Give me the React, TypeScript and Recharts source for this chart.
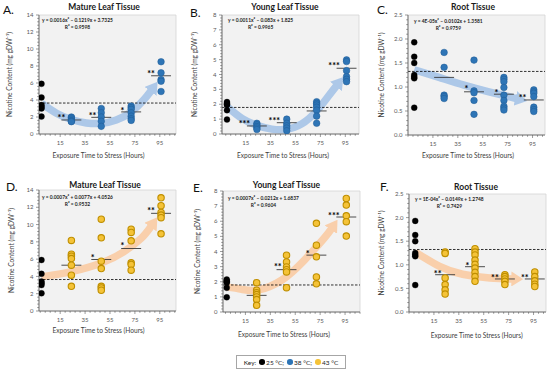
import React from 'react';
import {
  ComposedChart,
  XAxis,
  YAxis,
  Scatter,
  Line,
  ReferenceLine,
  ReferenceArea,
  CartesianGrid,
} from 'recharts';

const FONT = 'Lato, "Liberation Sans", sans-serif';

// ---------- categories / tick labels ----------
const HOURS = [24, 48, 72, 96];
const X_MAJOR = [15, 35, 55, 75, 95];
const Y_MAJOR_MATURE = [0, 2, 4, 6, 8, 10, 12, 14];
const Y_MAJOR_YOUNG = [0, 1, 2, 3, 4, 5, 6, 7, 8];
const Y_MAJOR_ROOT = [0, 0.5, 1, 1.5, 2, 2.5];

// ---------- control (25 °C) ----------
const ctrlMature = [5.9, 4.3, 3.4, 3.2, 3.0, 2.05];
const ctrlYoung = [2.15, 2.05, 2.0, 1.95, 1.6, 0.97];
const ctrlRoot = [1.93, 1.63, 1.5, 1.25, 1.21, 1.18, 0.57];

// ---------- 38 °C ----------
const mature38 = [
  [2.0, 1.9, 1.75, 1.6, 1.5, 1.45],
  [3.0, 2.5, 2.0, 1.5, 0.9],
  [3.3, 3.1, 2.9, 2.5, 2.1, 1.8, 1.6],
  [8.5, 7.2, 6.4, 6.2, 5.0],
];
const mature38Means = [1.65, 1.96, 2.6, 6.85];
const young38 = [
  [0.72, 0.62, 0.5, 0.4, 0.3],
  [1.0, 0.72, 0.55, 0.4, 0.22],
  [2.17, 2.06, 1.95, 1.8, 1.6, 1.2, 0.72],
  [4.98, 4.87, 4.26, 3.86, 3.68, 3.52],
];
const young38Means = [0.54, 0.76, 1.55, 4.42];
const root38 = [
  [1.72, 1.41, 0.83, 0.8, 0.76],
  [1.56, 0.92, 0.88, 0.72, 0.43],
  [1.2, 1.16, 1.11, 0.99, 0.83, 0.72, 0.6, 0.56, 0.52],
  [0.94, 0.9, 0.87, 0.8, 0.58, 0.53, 0.49],
];
const root38Means = [1.2, 0.9, 0.85, 0.73];

// ---------- 43 °C ----------
const mature43 = [
  [8.16, 6.57, 6.34, 6.07, 5.3, 4.14, 2.86],
  [10.63, 8.47, 5.76, 4.91, 2.86, 2.67, 2.4],
  [9.47, 9.09, 8.12, 5.57, 5.38, 4.72],
  [13.1, 12.18, 11.4, 11.1, 10.8, 8.93],
];
const mature43Means = [5.3, 5.96, 7.23, 11.3];
const young43 = [
  [1.94, 1.44, 1.28, 1.15, 1.0, 0.82, 0.44],
  [3.76, 3.31, 2.98, 2.8, 2.65, 1.61],
  [5.86, 4.42, 3.65, 2.32, 1.86],
  [7.51, 7.07, 6.36, 5.97, 5.02],
];
const young43Means = [1.1, 2.8, 3.76, 6.28];
const root43 = [
  [1.27, 1.24, 0.72, 0.58, 0.47, 0.38],
  [1.34, 1.27, 1.21, 1.1, 1.01, 0.93, 0.84, 0.75, 0.65],
  [0.79, 0.75, 0.7, 0.65, 0.58],
  [0.85, 0.75, 0.66, 0.59, 0.54],
];
const root43Means = [0.79, 0.96, 0.7, 0.7];

// ---------- significance marks ----------
const starsA = [
  { x: 16, y: 2.15, t: '**' },
  { x: 41, y: 2.4, t: '**' },
  { x: 65, y: 3.0, t: '*' },
  { x: 88, y: 7.3, t: '**' },
];
const starsB = [
  { x: 14, y: 0.83, t: '***' },
  { x: 38, y: 1.0, t: '***' },
  { x: 86, y: 4.7, t: '***' },
];
const starsC = [
  { x: 42, y: 0.99, t: '*' },
  { x: 66, y: 0.92, t: '*' },
  { x: 87, y: 0.82, t: '**' },
];
const starsD = [
  { x: 41, y: 6.34, t: '*' },
  { x: 65, y: 7.73, t: '*' },
  { x: 88, y: 11.8, t: '**' },
];
const starsE = [
  { x: 41, y: 3.1, t: '**' },
  { x: 65, y: 3.98, t: '*' },
  { x: 86, y: 6.45, t: '***' },
];
const starsF = [
  { x: 18, y: 0.84, t: '**' },
  { x: 42, y: 1.02, t: '*' },
  { x: 64, y: 0.77, t: '**' },
  { x: 88, y: 0.77, t: '**' },
];

// ---------- trend arrows ----------
const arrowA = [
  { x: 0, y: 3.6 }, { x: 12, y: 2.45 }, { x: 24, y: 1.7 }, { x: 36, y: 1.3 },
  { x: 48, y: 1.25 }, { x: 60, y: 1.65 }, { x: 72, y: 2.6 }, { x: 82, y: 4.0 }, { x: 88, y: 5.1 },
];
const arrowB = [
  { x: 0, y: 1.84 }, { x: 12, y: 1.05 }, { x: 24, y: 0.58 }, { x: 36, y: 0.33 },
  { x: 48, y: 0.32 }, { x: 60, y: 0.68 }, { x: 72, y: 1.55 }, { x: 82, y: 2.6 }, { x: 88, y: 3.25 },
];
const arrowC = [
  { x: 0, y: 1.36 }, { x: 20, y: 1.2 }, { x: 40, y: 1.04 }, { x: 60, y: 0.9 }, { x: 82, y: 0.76 },
];
const arrowD = [
  { x: 0, y: 3.95 }, { x: 24, y: 4.55 }, { x: 48, y: 5.55 }, { x: 66, y: 6.85 },
  { x: 80, y: 8.4 }, { x: 88, y: 9.8 },
];
const arrowE = [
  { x: 0, y: 1.66 }, { x: 12, y: 1.5 }, { x: 25, y: 1.45 }, { x: 44, y: 2.1 },
  { x: 62, y: 3.4 }, { x: 78, y: 4.86 }, { x: 84, y: 5.5 },
];
const arrowF = [
  { x: 0, y: 1.27 }, { x: 20, y: 0.96 }, { x: 38, y: 0.8 }, { x: 60, y: 0.72 }, { x: 78, y: 0.7 },
];

const BLUE = '#2e75b6';
const BLUE_EDGE = '#1f5a94';
const GOLD = '#f5c338';
const GOLD_EDGE = '#bf8f00';
const ARROW_BLUE = '#adc8e8';
const ARROW_GOLD = '#f9cfab';

type Cfg = {
  letter: string;
  title: string;
  left: number;
  top: number;
  width: number;
  plot: { l: number; r: number; t: number; b: number };
  xDomain: [number, number];
  yMax: number;
  yMajor: number[];
  yMinorStep: number;
  yFmt: (v: number) => string;
  ctrl: number[];
  groups: number[][];
  means: number[];
  stars: { x: number; y: number; t: string }[];
  arrow: { x: number; y: number }[];
  gold: boolean;
  eq1: string;
  eq2: string;
  titlePos: [number, number];
  letterPos: [number, number];
  eqPos: [number, number];
  yLabelX: number;
  xLabelCenter: number;
  xLabelY: number;
};

const fmtInt = (v: number) => String(v);
const fmt1 = (v: number) => v.toFixed(1);

const panels: Cfg[] = [
  {
    letter: 'A.', title: 'Mature Leaf Tissue', left: 0, top: 0, width: 183,
    plot: { l: 39, r: 176, t: 15, b: 134 }, xDomain: [-2, 108], yMax: 14,
    yMajor: Y_MAJOR_MATURE, yMinorStep: 0.4, yFmt: fmtInt,
    ctrl: ctrlMature, groups: mature38, means: mature38Means, stars: starsA, arrow: arrowA, gold: false,
    eq1: 'y = 0.0016x² – 0.1219x + 3.7325', eq2: 'R² = 0.9598',
    titlePos: [104, 7], letterPos: [3, 10], eqPos: [42, 16.5], yLabelX: 10, xLabelCenter: 98.5, xLabelY: 155.7,
  },
  {
    letter: 'B.', title: 'Young Leaf Tissue', left: 183, top: 0, width: 182,
    plot: { l: 39, r: 176, t: 15, b: 134 }, xDomain: [-4, 106], yMax: 8,
    yMajor: Y_MAJOR_YOUNG, yMinorStep: 0.2, yFmt: fmtInt,
    ctrl: ctrlYoung, groups: young38, means: young38Means, stars: starsB, arrow: arrowB, gold: false,
    eq1: 'y = 0.0011x² – 0.083x + 1.825', eq2: 'R² = 0.9965',
    titlePos: [102, 7], letterPos: [7, 13], eqPos: [45, 16.5], yLabelX: 12, xLabelCenter: 100, xLabelY: 155.7,
  },
  {
    letter: 'C.', title: 'Root Tissue', left: 365, top: 0, width: 185,
    plot: { l: 43, r: 180, t: 15, b: 135 }, xDomain: [-5, 105], yMax: 2.5,
    yMajor: Y_MAJOR_ROOT, yMinorStep: 0.1, yFmt: fmt1,
    ctrl: ctrlRoot, groups: root38, means: root38Means, stars: starsC, arrow: arrowC, gold: false,
    eq1: 'y = 4E-05x² – 0.0102x + 1.3581', eq2: 'R² = 0.9759',
    titlePos: [108, 7], letterPos: [12, 10], eqPos: [49, 17.5], yLabelX: 17, xLabelCenter: 103, xLabelY: 155.7,
  },
  {
    letter: 'D.', title: 'Mature Leaf Tissue', left: 0, top: 175, width: 183,
    plot: { l: 39, r: 176, t: 15, b: 136 }, xDomain: [-2, 108], yMax: 14,
    yMajor: Y_MAJOR_MATURE, yMinorStep: 0.4, yFmt: fmtInt,
    ctrl: ctrlMature, groups: mature43, means: mature43Means, stars: starsD, arrow: arrowD, gold: true,
    eq1: 'y = 0.0007x² + 0.0077x + 4.0526', eq2: 'R² = 0.9532',
    titlePos: [105, 10], letterPos: [6, 12], eqPos: [42, 18.5], yLabelX: 12, xLabelCenter: 98.5, xLabelY: 155.7,
  },
  {
    letter: 'E.', title: 'Young Leaf Tissue', left: 183, top: 175, width: 182,
    plot: { l: 40, r: 177, t: 16, b: 137 }, xDomain: [-3, 107], yMax: 8,
    yMajor: Y_MAJOR_YOUNG, yMinorStep: 0.2, yFmt: fmtInt,
    ctrl: ctrlYoung, groups: young43, means: young43Means, stars: starsE, arrow: arrowE, gold: true,
    eq1: 'y = 0.0007x² – 0.0212x + 1.6837', eq2: 'R² = 0.9604',
    titlePos: [103.5, 10], letterPos: [10, 13], eqPos: [45, 19.5], yLabelX: 15, xLabelCenter: 101, xLabelY: 159.3,
  },
  {
    letter: 'F.', title: 'Root Tissue', left: 365, top: 175, width: 185,
    plot: { l: 44, r: 181, t: 19, b: 137 }, xDomain: [-5, 105], yMax: 2.5,
    yMajor: Y_MAJOR_ROOT, yMinorStep: 0.1, yFmt: fmt1,
    ctrl: ctrlRoot, groups: root43, means: root43Means, stars: starsF, arrow: arrowF, gold: true,
    eq1: 'y = 1E-04x² – 0.0149x + 1.2748', eq2: 'R² = 0.7429',
    titlePos: [111, 12], letterPos: [15, 12], eqPos: [50, 20.5], yLabelX: 17, xLabelCenter: 111.7, xLabelY: 161,
  },
];

const near = (a: number, b: number) => Math.abs(a - b) < 1e-6;

function Panel({ cfg }: { cfg: Cfg }) {
  const W = cfg.width;
  const H = 175;
  const { plot } = cfg;
  const XH = 20;
  const ctrlMean = cfg.ctrl.reduce((a, b) => a + b, 0) / cfg.ctrl.length;
  const ctrlPts = cfg.ctrl.map((v) => ({ x: 0, y: v }));
  const grpPts = cfg.groups.flatMap((g, i) => g.map((v) => ({ x: HOURS[i], y: v })));

  const xTicks: number[] = [];
  for (let v = X_MAJOR[0]; v >= cfg.xDomain[0]; v -= 4) xTicks.unshift(v);
  for (let v = X_MAJOR[0] + 4; v <= cfg.xDomain[1]; v += 4) xTicks.push(v);
  const yTicks: number[] = [];
  const nMinor = Math.round(cfg.yMax / cfg.yMinorStep);
  for (let i = 0; i <= nMinor; i++) yTicks.push(Math.round(i * cfg.yMinorStep * 1000) / 1000);

  const xTick = (p: any) => {
    const { x, y, payload } = p;
    const v = payload.value;
    const major = X_MAJOR.some((m) => near(m, v));
    return (
      <g>
        <line x1={x} x2={x} y1={y} y2={y + (major ? 3 : 1.8)} stroke="#595959" strokeWidth={0.6} />
        {major && (
          <text x={x} y={y + 9} dy="0.35em" textAnchor="middle" fontSize={6} fill="#595959" fontFamily={FONT}>
            {v}
          </text>
        )}
      </g>
    );
  };
  const yTick = (p: any) => {
    const { x, y, payload } = p;
    const v = payload.value;
    const major = cfg.yMajor.some((m) => near(m, v));
    return (
      <g>
        <line x1={x} x2={x - (major ? 3 : 1.8)} y1={y} y2={y} stroke="#595959" strokeWidth={0.6} />
        {major && (
          <text x={x - 5.5} y={y} dy="0.35em" textAnchor="end" fontSize={6} fill="#595959" fontFamily={FONT}>
            {cfg.yFmt(v)}
          </text>
        )}
      </g>
    );
  };

  const dotShape = (fill: string, stroke: string, r: number, sw: number) => (p: any) => (
    <circle cx={p.cx} cy={p.cy} r={r} fill={fill} stroke={stroke} strokeWidth={sw} />
  );
  const starShape = (p: any) => (
    <text x={p.cx} y={p.cy + 5} textAnchor="middle" fontSize={9} fontWeight={700} fill="#000" fontFamily={FONT}>
      {p.payload.t}
    </text>
  );

  const plotCenterX = (plot.l + plot.r) / 2;
  const xLabelOffset = cfg.xLabelY - 2.2 - plot.b - XH;

  return (
    <div style={{ position: 'absolute', left: cfg.left, top: cfg.top, width: W, height: H }}>
      <ComposedChart
        width={W}
        height={H}
        margin={{ top: plot.t, right: W - plot.r, bottom: H - plot.b - XH, left: 0 }}
      >
        <CartesianGrid horizontal={false} vertical={false} fill="#f2f2f2" />
        <XAxis
          type="number"
          dataKey="x"
          domain={cfg.xDomain}
          allowDataOverflow
          ticks={xTicks}
          interval={0}
          tickSize={0}
          tickMargin={0}
          tickLine={false}
          tick={xTick}
          height={XH}
          axisLine={{ stroke: '#595959', strokeWidth: 0.8 }}
          label={{
            value: 'Exposure Time to Stress (Hours)',
            position: 'bottom',
            offset: xLabelOffset,
            dx: cfg.xLabelCenter - plotCenterX,
            fontSize: 6.6,
            fill: '#404040',
            fontFamily: FONT,
          }}
        />
        <YAxis
          type="number"
          dataKey="y"
          domain={[0, cfg.yMax]}
          allowDataOverflow
          ticks={yTicks}
          interval={0}
          tickSize={0}
          tickMargin={0}
          tickLine={false}
          tick={yTick}
          width={plot.l}
          axisLine={{ stroke: '#595959', strokeWidth: 0.8 }}
          label={{
            value: 'Nicotine Content (mg gDW⁻¹)',
            angle: -90,
            position: 'insideLeft',
            offset: cfg.yLabelX,
            fontSize: 6.6,
            fill: '#404040',
            fontFamily: FONT,
            style: { textAnchor: 'middle' },
          }}
        />
        <ReferenceArea
          x1={cfg.xDomain[0]}
          x2={cfg.xDomain[1]}
          y1={0}
          y2={cfg.yMax}
          fill="none"
          stroke="#d4d4d4"
          strokeWidth={0.8}
        />
        <Line
          data={cfg.arrow}
          dataKey="y"
          type="natural"
          stroke={cfg.gold ? ARROW_GOLD : ARROW_BLUE}
          strokeWidth={7.5}
          dot={false}
          activeDot={false}
          isAnimationActive={false}
          markerEnd={cfg.gold ? 'url(#headGold)' : 'url(#headBlue)'}
        />
        <ReferenceLine y={ctrlMean} stroke="#000" strokeDasharray="2.5 1.5" strokeWidth={0.8} />
        {cfg.means.map((m, i) => (
          <ReferenceLine
            key={i}
            segment={[
              { x: HOURS[i] - 8, y: m },
              { x: HOURS[i] + 8, y: m },
            ]}
            stroke="#3a3a3a"
            strokeWidth={0.9}
          />
        ))}
        <Scatter data={ctrlPts} shape={dotShape('#000', '#000', 3, 0.3)} isAnimationActive={false} />
        <Scatter
          data={grpPts}
          shape={cfg.gold ? dotShape(GOLD, GOLD_EDGE, 3.2, 1.1) : dotShape(BLUE, BLUE_EDGE, 3.3, 0.5)}
          isAnimationActive={false}
        />
        <Scatter data={cfg.stars} shape={starShape} isAnimationActive={false} />
      </ComposedChart>
      <div
        style={{
          position: 'absolute',
          left: cfg.titlePos[0],
          top: cfg.titlePos[1],
          transform: 'translate(-50%, -50%)',
          fontFamily: FONT,
          fontWeight: 700,
          fontSize: 8.5,
          color: '#1a1a1a',
          whiteSpace: 'nowrap',
          lineHeight: 1,
        }}
      >
        {cfg.title}
      </div>
      <div
        style={{
          position: 'absolute',
          left: cfg.letterPos[0],
          top: cfg.letterPos[1],
          transform: 'translateY(-50%)',
          fontFamily: FONT,
          fontSize: 12,
          color: '#111',
          whiteSpace: 'nowrap',
          lineHeight: 1,
        }}
      >
        {cfg.letter}
      </div>
      <div
        style={{
          position: 'absolute',
          left: cfg.eqPos[0],
          top: cfg.eqPos[1],
          fontFamily: FONT,
          fontSize: 4.9,
          fontWeight: 700,
          color: '#222',
          whiteSpace: 'nowrap',
          lineHeight: '7px',
          textAlign: 'center',
        }}
      >
        <div>{cfg.eq1}</div>
        <div>{cfg.eq2}</div>
      </div>
    </div>
  );
}

const Dot = ({ color }: { color: string }) => (
  <span
    style={{
      display: 'inline-block',
      width: 5.5,
      height: 5.5,
      borderRadius: '50%',
      background: color,
      margin: '0 1.5px 0 3px',
      verticalAlign: '-0.5px',
    }}
  />
);

export default function App() {
  return (
    <div
      style={{
        position: 'fixed',
        left: 0,
        top: 0,
        width: 550,
        height: 372,
        background: '#fff',
        overflow: 'hidden',
      }}
    >
      <svg width={0} height={0} style={{ position: 'absolute' }}>
        <defs>
          <marker
            id="headBlue"
            viewBox="0 0 12 15"
            refX={1}
            refY={7.5}
            markerWidth={12}
            markerHeight={15}
            markerUnits="userSpaceOnUse"
            orient="auto"
          >
            <path d="M0,0 L12,7.5 L0,15 z" fill={ARROW_BLUE} />
          </marker>
          <marker
            id="headGold"
            viewBox="0 0 12 15"
            refX={1}
            refY={7.5}
            markerWidth={12}
            markerHeight={15}
            markerUnits="userSpaceOnUse"
            orient="auto"
          >
            <path d="M0,0 L12,7.5 L0,15 z" fill={ARROW_GOLD} />
          </marker>
        </defs>
      </svg>
      {panels.map((p) => (
        <Panel key={p.letter} cfg={p} />
      ))}
      <div
        style={{
          position: 'absolute',
          left: 236,
          top: 355,
          width: 110,
          height: 14,
          boxSizing: 'border-box',
          border: '1px solid #a6a6a6',
          fontFamily: FONT,
          fontSize: 6.5,
          color: '#222',
          display: 'flex',
          alignItems: 'center',
          justifyContent: 'center',
          whiteSpace: 'nowrap',
        }}
      >
        Key:<Dot color="#000" />25 °C;<Dot color={BLUE} />38 °C;<Dot color={GOLD} />43 °C
      </div>
    </div>
  );
}
